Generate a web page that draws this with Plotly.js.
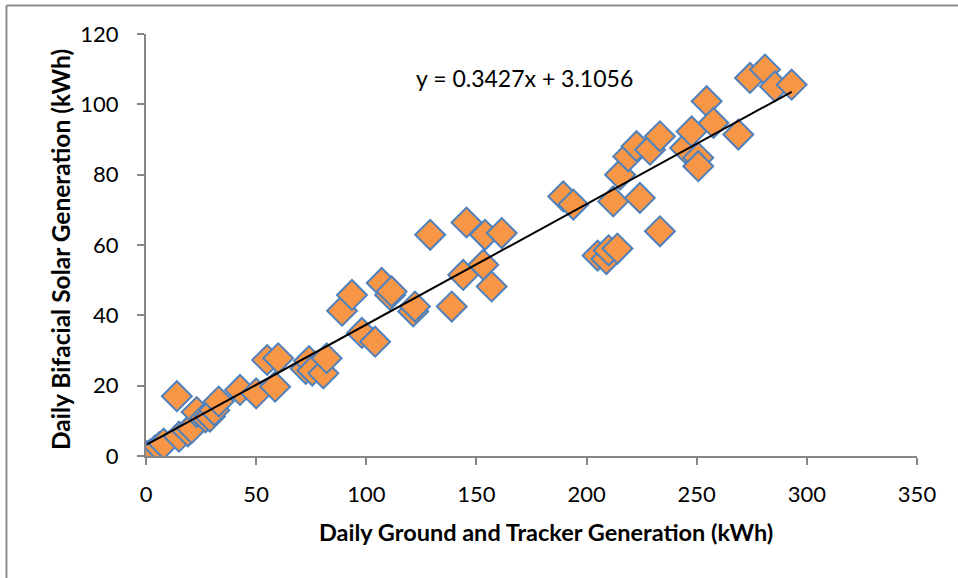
<!DOCTYPE html>
<html>
<head>
<meta charset="utf-8">
<script src="https://cdn.plot.ly/plotly-3.0.1.min.js"></script>
<style>html,body{margin:0;padding:0;background:#fff;}#chart{width:958px;height:578px;}</style>
</head>
<body>
<div id="chart"></div>
<script>
// Daily ground & tracker generation (kWh)
const groundTracker = [
  0.5, 2, 4, 6, 8, 14, 15, 19, 20.7, 23, 27, 29, 31, 33,
  42.7, 50, 55, 58.6, 60, 72.5, 74, 75.5, 80.5, 82,
  89, 93.5, 98, 104, 107, 110.8, 111.5, 121.3, 122.1, 129, 138.8,
  144, 145.5, 153.1, 153.9, 156.9, 161.5,
  189.4, 194, 205, 209, 210, 214, 212.1, 215.2, 218.9, 222.7, 224.2, 228.8, 233.3, 233.3,
  244.7, 247.7, 250.7, 250.7, 254.5, 257.6, 268.9, 274.2, 281, 285.5, 293.1
];
// Daily bifacial solar generation (kWh)
const bifacial = [
  0, 0.5, 1.5, 2.5, 3.5, 17, 5.5, 7, 7.9, 12.5, 11, 11.2, 13, 15.5,
  18.8, 17.8, 27.3, 19.7, 27.8, 24.8, 27, 24.3, 23.5, 27.8,
  41.3, 45.8, 35, 32.5, 49.2, 45.8, 46.8, 41.1, 42.5, 62.9, 42.5,
  51.5, 66.4, 54.4, 62.9, 48.2, 63.4,
  73.8, 71.5, 57, 56, 58.5, 59, 72.4, 80, 85.2, 88.1, 73.4, 87.1, 90.9, 63.9,
  87.6, 92.3, 84.8, 82.4, 100.9, 94.7, 91.4, 107.5, 109.9, 105.1, 105.6
];
// Linear trendline coefficients shown on chart
const slope = 0.3427;
const intercept = 3.1056;
const equationText = "y = 0.3427x + 3.1056";
const xTitle = "Daily Ground and Tracker Generation (kWh)";
const yTitle = "Daily Bifacial Solar Generation (kWh)";

const xMin = Math.min(...groundTracker), xMax = Math.max(...groundTracker);
const trendX = [xMin, xMax];
const trendY = trendX.map(v => slope * v + intercept);

const font = "Lato, 'Open Sans', sans-serif";
const axisColor = "#868686";

const data = [
  {
    x: groundTracker, y: bifacial, type: "scatter", mode: "markers",
    marker: {symbol: "diamond", size: 23, color: "#F79646", line: {color: "#4F81BD", width: 2}},
    hoverinfo: "x+y", showlegend: false
  },
  {
    x: trendX, y: trendY, type: "scatter", mode: "lines",
    line: {color: "#000000", width: 2}, hoverinfo: "skip", showlegend: false
  }
];

const layout = {
  width: 958, height: 578,
  margin: {l: 146, r: 41, t: 34, b: 122},
  paper_bgcolor: "#ffffff", plot_bgcolor: "#ffffff",
  font: {family: font, size: 22, color: "#000"},
  xaxis: {
    range: [0, 350], dtick: 50, tick0: 0, showgrid: false, zeroline: false,
    showline: true, linecolor: axisColor, linewidth: 2,
    ticks: "outside", ticklen: 7, tickwidth: 2, tickcolor: axisColor,
    ticklabelstandoff: 11,
    tickfont: {family: font, size: 22, color: "#000"}
  },
  yaxis: {
    range: [0, 120], dtick: 20, tick0: 0, showgrid: false, zeroline: false,
    showline: true, linecolor: axisColor, linewidth: 2,
    ticks: "outside", ticklen: 7, tickwidth: 2, tickcolor: axisColor,
    ticklabelstandoff: 14,
    tickfont: {family: font, size: 22, color: "#000"}
  },
  annotations: [
    {
      x: 172, y: 107.6, xref: "x", yref: "y", text: equationText, showarrow: false,
      font: {family: font, size: 23, color: "#000"}
    },
    {
      x: (546 - 146) / 771, y: (456 - 532) / 422, xref: "paper", yref: "paper",
      xanchor: "center", yanchor: "middle", text: xTitle, showarrow: false,
      font: {family: font, size: 23.5, color: "#000", weight: "bold"}
    },
    {
      x: (61 - 146) / 771, y: (456 - 250) / 422, xref: "paper", yref: "paper",
      xanchor: "center", yanchor: "middle", textangle: -90, text: yTitle, showarrow: false,
      font: {family: font, size: 24.5, color: "#000", weight: "bold"}
    }
  ],
  shapes: [
    {type: "line", xref: "paper", yref: "paper", x0: -0.181, x1: -0.181, y0: 1.0675, y1: -0.3, line: {color: "#8c8c8c", width: 2}},
    {type: "line", xref: "paper", yref: "paper", x0: -0.181, x1: 1.06, y0: 1.0675, y1: 1.0675, line: {color: "#8c8c8c", width: 2}}
  ]
};

Plotly.newPlot("chart", data, layout, {displayModeBar: false, staticPlot: true});
</script>
</body>
</html>
